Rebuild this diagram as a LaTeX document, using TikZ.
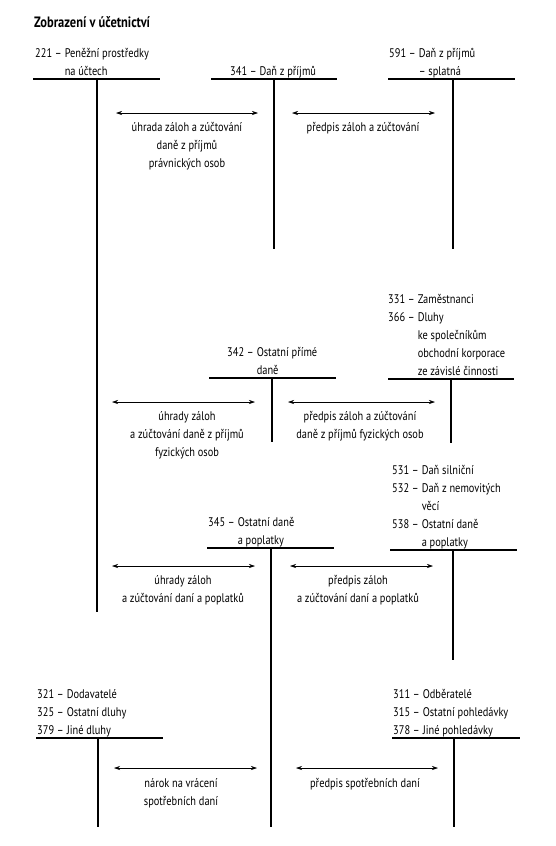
\documentclass[tikz,border=0pt]{standalone}
\usepackage{fontspec}
\setmainfont{PT Sans}[FakeStretch=0.83]
\usetikzlibrary{arrows.meta}
\tikzset{
  tline/.style={line width=1.8pt},
  flow/.style={line width=0.6pt,{Stealth[length=6pt,width=4pt]}-{Stealth[length=6pt,width=4pt]}},
  lbl/.style={anchor=base west,inner sep=0pt},
  note/.style={anchor=base,inner sep=0pt},
}
\newcommand{\acc}[1]{\begin{tabular}[b]{@{}l@{\hspace{3pt}}l@{}}#1\end{tabular}}
\newcommand{\txt}[1]{\begin{tabular}[t]{@{}c@{}}#1\end{tabular}}
\begin{document}
\begin{tikzpicture}[x=1pt,y=-1pt,font=\fontsize{12.5}{18}\selectfont]
\useasboundingbox (0,0) rectangle (555,846);
% title
\node[lbl,font=\fontsize{15}{18}\selectfont\bfseries] (title) at (34,27) {Zobrazení v účetnictví};

% ---------- section 1
\node[lbl] (l221) at (35,75) {\acc{221 –&Peněžní prostředky\\ &na účtech}};
\coordinate (a221l) at (33,79); \coordinate (a221r) at (160,79);
\coordinate (a221t) at (97,79); \coordinate (a221b) at (97,612);
\draw[tline] (a221l) -- (a221r); \draw[tline] (a221t) -- (a221b);

\node[lbl] (l341) at (230,75) {341 – Daň z příjmů};
\coordinate (a341l) at (211,79); \coordinate (a341r) at (337,79);
\coordinate (a341t) at (274,79); \coordinate (a341b) at (274,249);
\draw[tline] (a341l) -- (a341r); \draw[tline] (a341t) -- (a341b);

\node[lbl] (l591) at (389,75) {\acc{591 –&Daň z příjmů\\ &– splatná}};
\coordinate (a591l) at (388,79); \coordinate (a591r) at (515,79);
\coordinate (a591t) at (453,79); \coordinate (a591b) at (453,249);
\draw[tline] (a591l) -- (a591r); \draw[tline] (a591t) -- (a591b);

\coordinate (f1a) at (116,113); \coordinate (f1b) at (258,113);
\draw[flow] (f1a) -- (f1b);
\node[note] (t1) at (187,131) {\txt{úhrada záloh a zúčtování\\daně z příjmů\\právnických osob}};
\coordinate (f2a) at (292,113); \coordinate (f2b) at (435,113);
\draw[flow] (f2a) -- (f2b);
\node[note] (t2) at (363,131) {\txt{předpis záloh a zúčtování}};

% ---------- section 2
\node[lbl] (l331) at (388,375) {\acc{331 –&Zaměstnanci\\366 –&Dluhy\\ &ke společníkům\\ &obchodní korporace\\ &ze závislé činnosti}};
\coordinate (a331l) at (388,379); \coordinate (a331r) at (514,379);
\coordinate (a331t) at (451,379); \coordinate (a331b) at (451,443);
\draw[tline] (a331l) -- (a331r); \draw[tline] (a331t) -- (a331b);

\node[lbl] (l342) at (227,374) {\acc{342 –&Ostatní přímé\\ &daně}};
\coordinate (a342l) at (209,378); \coordinate (a342r) at (336,378);
\coordinate (a342t) at (272,378); \coordinate (a342b) at (272,442);
\draw[tline] (a342l) -- (a342r); \draw[tline] (a342t) -- (a342b);

\coordinate (f3a) at (112,402); \coordinate (f3b) at (255,402);
\draw[flow] (f3a) -- (f3b);
\node[note] (t3) at (187,420) {\txt{úhrady záloh\\a zúčtování daně z příjmů\\fyzických osob}};
\coordinate (f4a) at (288,402); \coordinate (f4b) at (435,402);
\draw[flow] (f4a) -- (f4b);
\node[note] (t4) at (360,420) {\txt{předpis záloh a zúčtování\\daně z příjmů fyzických osob}};

% ---------- section 3
\node[lbl] (l531) at (392,546) {\acc{531 –&Daň silniční\\532 –&Daň z nemovitých\\ &věcí\\538 –&Ostatní daně\\ &a poplatky}};
\coordinate (a531l) at (390,550); \coordinate (a531r) at (517,550);
\coordinate (a531t) at (453,550); \coordinate (a531b) at (453,660);
\draw[tline] (a531l) -- (a531r); \draw[tline] (a531t) -- (a531b);

\node[lbl] (l345) at (208,544) {\acc{345 –\hspace{2pt}&Ostatní daně\\ &a poplatky}};
\coordinate (a345l) at (207,548); \coordinate (a345r) at (334,548);
\coordinate (a345t) at (271,548); \coordinate (a345b) at (271,827);
\draw[tline] (a345l) -- (a345r); \draw[tline] (a345t) -- (a345b);

\coordinate (f5a) at (112,566); \coordinate (f5b) at (255,566);
\draw[flow] (f5a) -- (f5b);
\node[note] (t5) at (183,584) {\txt{úhrady záloh\\a zúčtování daní a poplatků}};
\coordinate (f6a) at (290,566); \coordinate (f6b) at (433,566);
\draw[flow] (f6a) -- (f6b);
\node[note] (t6) at (358,584) {\txt{předpis záloh\\a zúčtování daní a poplatků}};

% ---------- section 4
\node[lbl] (l321) at (37,734) {\acc{321 –&Dodavatelé\\325 –&Ostatní dluhy\\379 –&Jiné dluhy}};
\coordinate (a321l) at (36,738); \coordinate (a321r) at (163,738);
\coordinate (a321t) at (98,738); \coordinate (a321b) at (98,827);
\draw[tline] (a321l) -- (a321r); \draw[tline] (a321t) -- (a321b);

\node[lbl] (l311) at (393,734) {\acc{311 –&Odběratelé\\315 –&Ostatní pohledávky\\378 –&Jiné pohledávky}};
\coordinate (a311l) at (392,738); \coordinate (a311r) at (520,738);
\coordinate (a311t) at (454,738); \coordinate (a311b) at (454,827);
\draw[tline] (a311l) -- (a311r); \draw[tline] (a311t) -- (a311b);

\coordinate (f7a) at (114,768); \coordinate (f7b) at (257,768);
\draw[flow] (f7a) -- (f7b);
\node[note] (t7) at (181,787) {\txt{nárok na vrácení\\spotřebních daní}};
\coordinate (f8a) at (296,768); \coordinate (f8b) at (438,768);
\draw[flow] (f8a) -- (f8b);
\node[note] (t8) at (365,787) {\txt{předpis spotřebních daní}};
\end{tikzpicture}
\end{document}
